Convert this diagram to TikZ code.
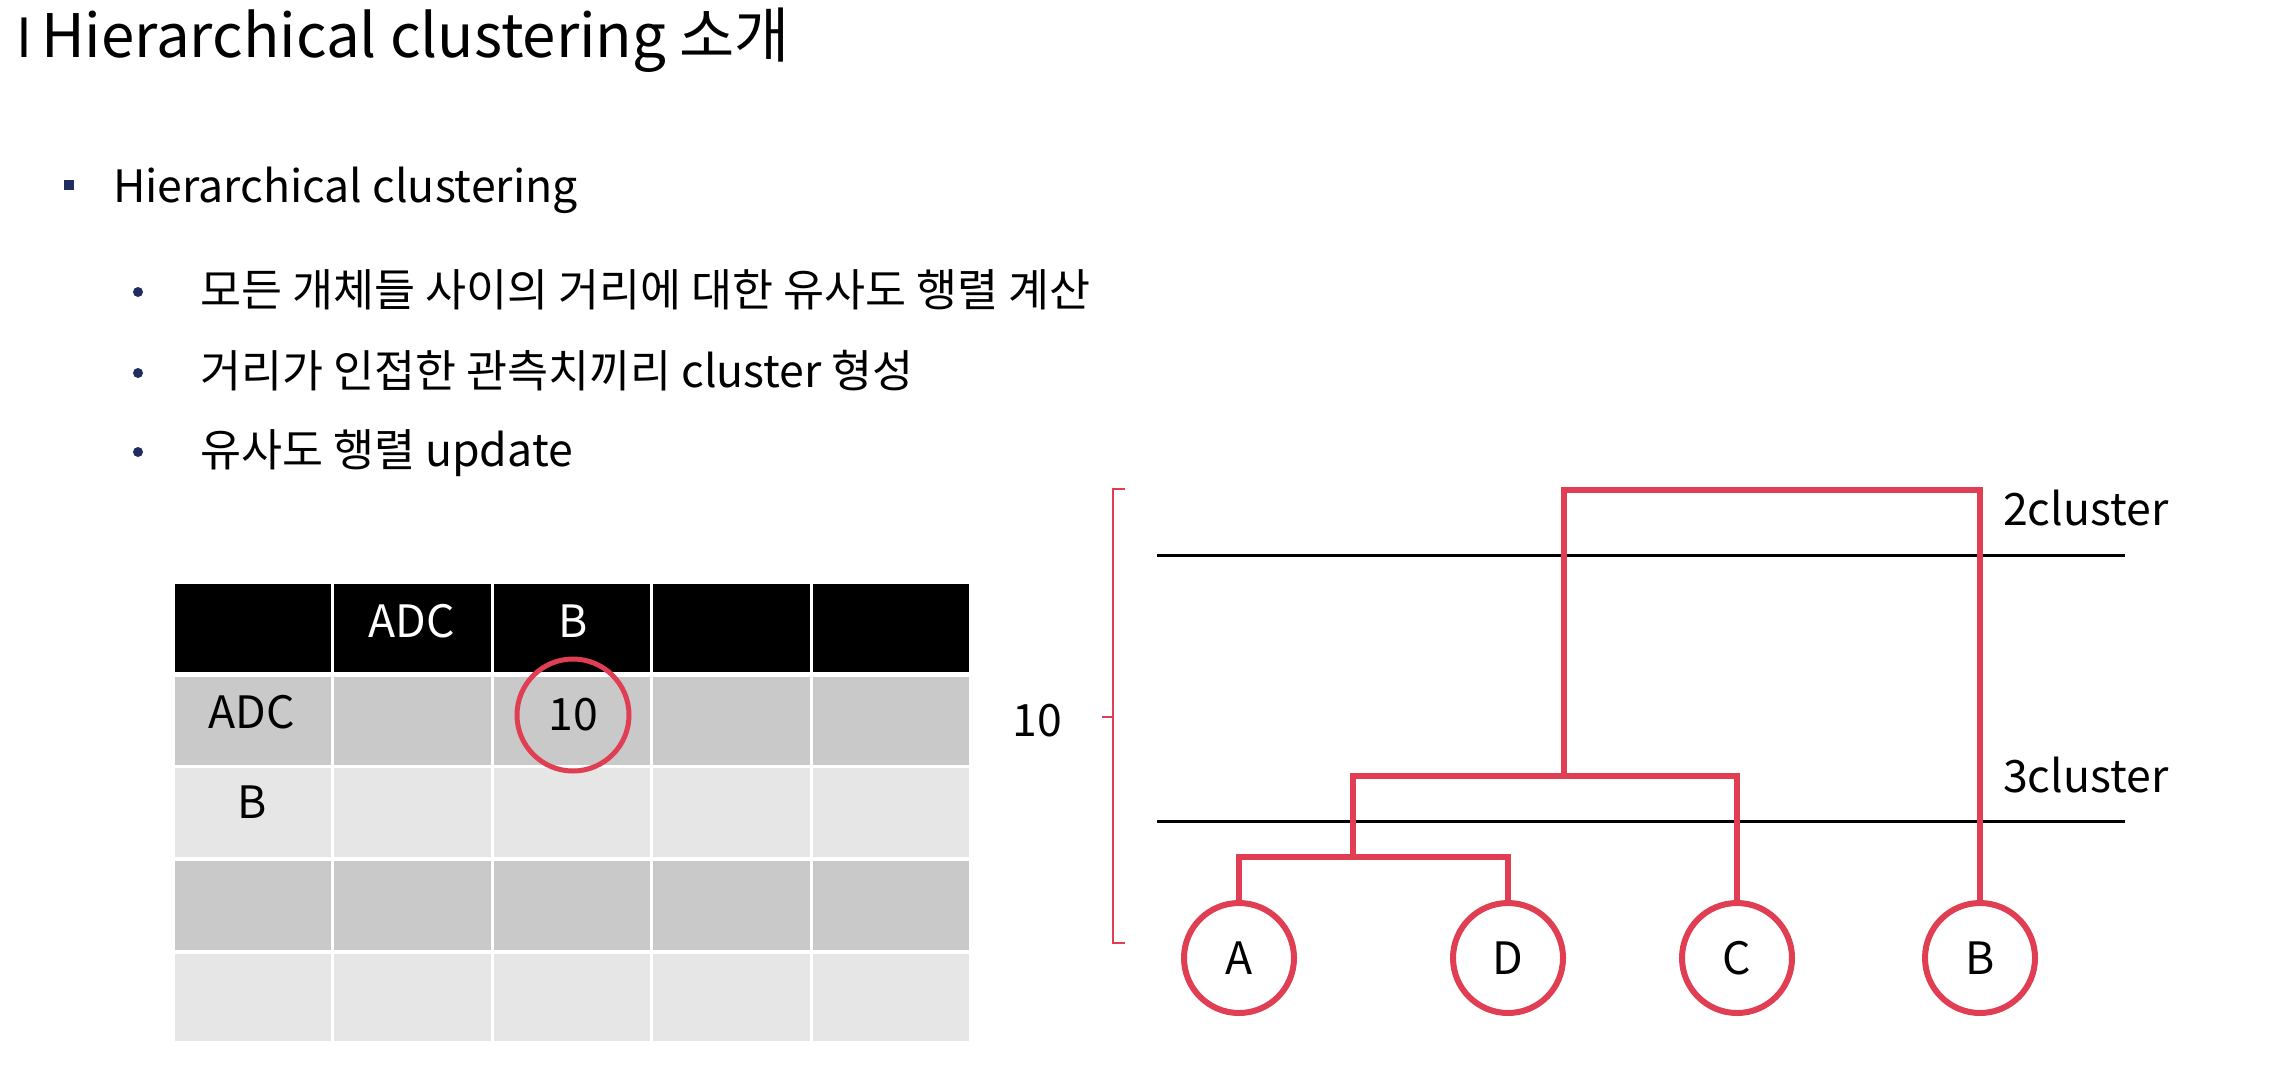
\documentclass[tikz,border=0pt]{standalone}
\usepackage{fontspec}
\setmainfont{Noto Sans CJK KR}
\definecolor{ared}{RGB}{224,62,82}
\definecolor{navy}{RGB}{31,45,96}
\definecolor{gdark}{RGB}{201,201,201}
\definecolor{glight}{RGB}{230,230,230}
\begin{document}
\begin{tikzpicture}[x=0.5pt,y=-0.5pt,
  every node/.style={inner sep=0pt,outer sep=0pt},
  titlef/.style={font=\fontsize{30}{36}\selectfont},
  bodyf/.style={font=\fontsize{22.3}{26}\selectfont},
  txt/.style={bodyf,anchor=base west},
  ctxt/.style={bodyf,anchor=base},
  dotb/.style={circle,fill=navy,minimum size=5pt},
  leaf/.style={circle,draw=ared,line width=3pt,minimum size=55pt,bodyf},
  tree/.style={draw=ared,line width=2.6pt},
  cut/.style={draw=black,line width=1.5pt},
  brk/.style={draw=ared,line width=1.3pt}]
\useasboundingbox (0,0) rectangle (2274,1088);
% title
\node[anchor=base west,font=\fontsize{27}{30}\selectfont] (tI) at (17,57) {I};
\node[titlef,anchor=base west] (title) at (41,57) {Hierarchical clustering 소개};
% bullets
\fill[navy] (64,180) rectangle (74,190);
\node[txt] (b0) at (113,202) {Hierarchical clustering};
\node[dotb] (d1) at (138,292) {};
\node[txt] (b1) at (200,306) {모든 개체들 사이의 거리에 대한 유사도 행렬 계산};
\node[dotb] (d2) at (138,373) {};
\node[txt] (b2) at (200,387) {거리가 인접한 관측치끼리 cluster 형성};
\node[dotb] (d3) at (138,452) {};
\node[txt] (b3) at (200,466) {유사도 행렬 update};
% table
\foreach \xa/\xb in {173/332,332/492,492/651,651/811,811/970}{
  \fill[black] (\xa+1.5,584) rectangle (\xb-1.5,672);
  \fill[gdark] (\xa+1.5,677) rectangle (\xb-1.5,765);
  \fill[glight] (\xa+1.5,768) rectangle (\xb-1.5,857);
  \fill[gdark] (\xa+1.5,861) rectangle (\xb-1.5,950);
  \fill[glight] (\xa+1.5,954) rectangle (\xb-1.5,1041);
}
\node[ctxt,text=white] (hADC) at (412,637) {ADC};
\node[ctxt,text=white] (hB) at (573,637) {B};
\node[ctxt] (rADC) at (252,728) {ADC};
\node[ctxt] (rB) at (252,818) {B};
\node[ctxt] (ten) at (573,730) {10};
\node[circle,draw=ared,line width=2.5pt,minimum size=56pt] (ring) at (573,715) {};
% dendrogram
\draw[brk] (1125,489) -- (1113,489) -- (1113,943) -- (1125,943);
\draw[brk] (1113,717) -- (1102,717);
\node[ctxt] (h10) at (1037,736) {10};
\draw[cut] (1157,555) -- (2125,555);
\draw[cut] (1157,821) -- (2125,821);
\node[txt] (c2) at (2003,525) {2cluster};
\node[txt] (c3) at (2003,792) {3cluster};
\node[leaf] (A) at (1239,958) {A};
\node[leaf] (D) at (1508,958) {D};
\node[leaf] (C) at (1737,958) {C};
\node[leaf] (B) at (1980,958) {B};
\coordinate (adj) at (1353,857);
\coordinate (adcj) at (1564,776);
\coordinate (topj) at (1564,490);
\draw[tree] (A.north) |- (adj) -| (D.north);
\draw[tree] (adj) |- (adcj) -| (C.north);
\draw[tree] (adcj) -- (topj) -| (B.north);
\end{tikzpicture}
\end{document}
